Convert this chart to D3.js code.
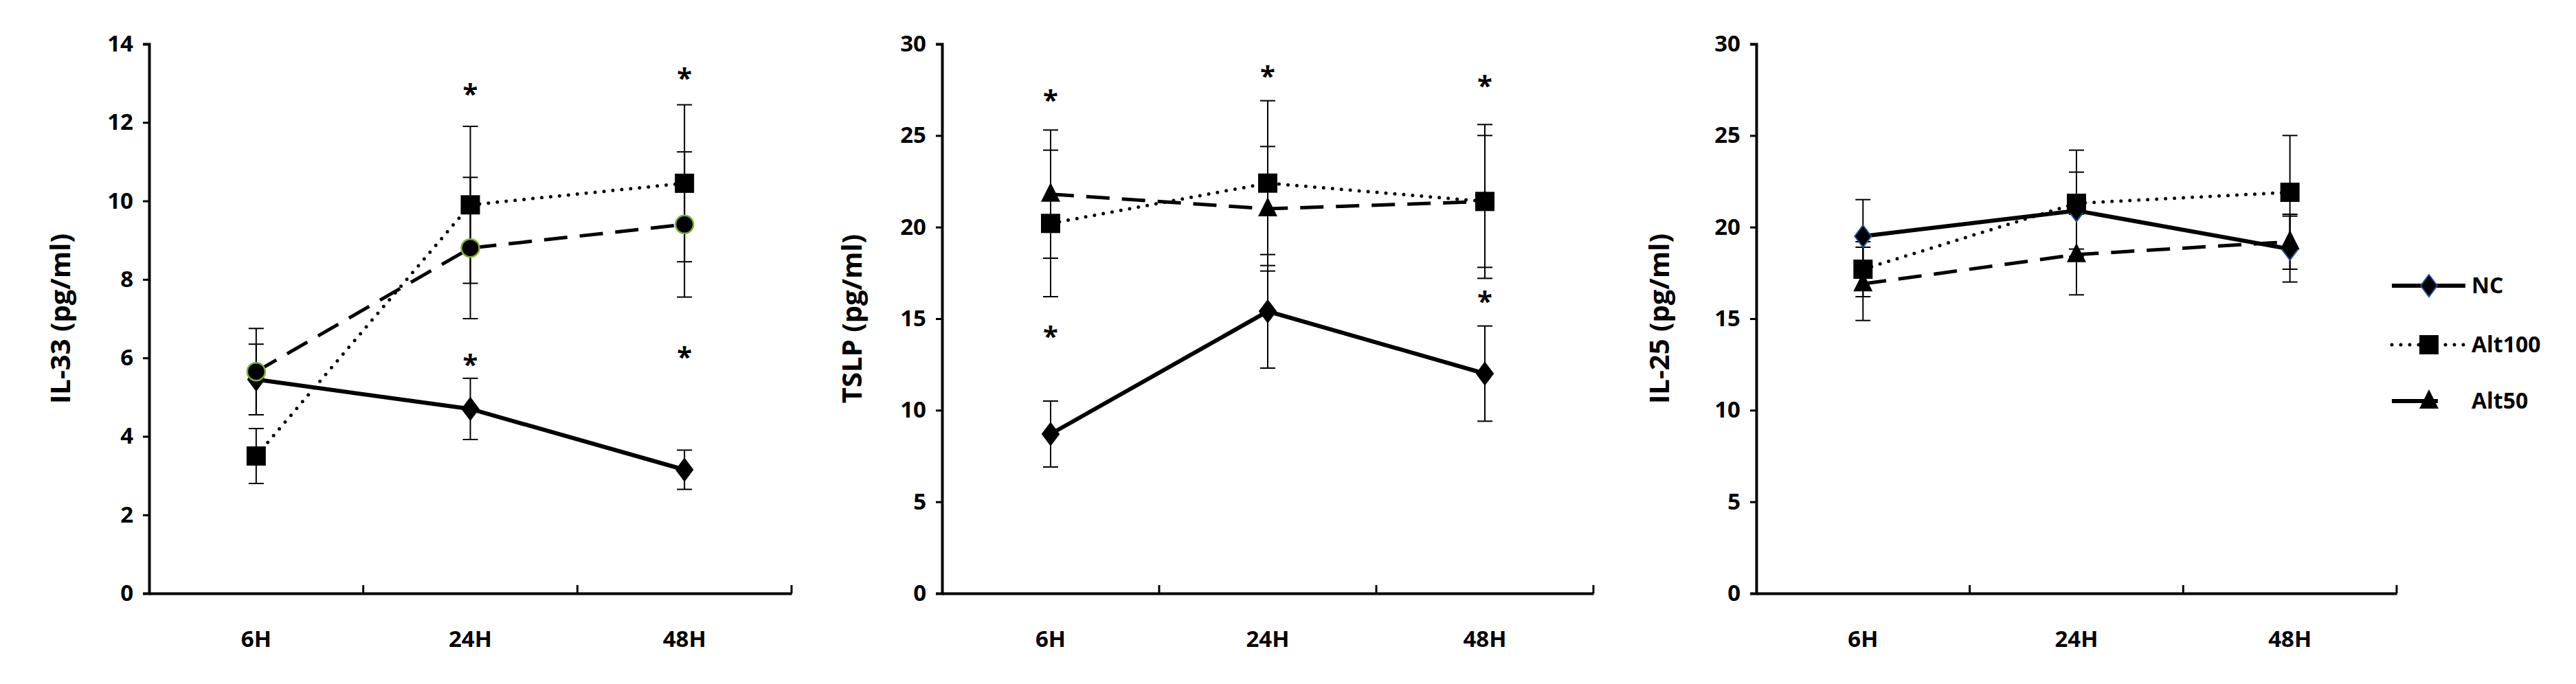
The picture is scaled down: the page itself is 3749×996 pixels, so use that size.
<!DOCTYPE html>
<html>
<head>
<meta charset="utf-8">
<script src="https://cdn.jsdelivr.net/npm/d3@7"></script>
<style>
  body { margin: 0; background: #fff; }
  text { font-family: "Open Sans", sans-serif; font-weight: bold; fill: #000; }
</style>
</head>
<body>
<script>
const times = ['6H', '24H', '48H']
const seriesNames = ['NC', 'Alt100', 'Alt50']

// IL-33
const il33Mean = { NC: [5.45, 4.7, 3.15], Alt100: [3.5, 9.9, 10.45], Alt50: [5.65, 8.8, 9.4] }
const il33Err = { NC: [0.9, 0.78, 0.5], Alt100: [0.7, 2.0, 2.0], Alt50: [1.1, 1.8, 1.85] }
const il33Stars = [[1, 12.9], [1, 6.0], [2, 13.3], [2, 6.2]]
const il33Ticks = [0, 2, 4, 6, 8, 10, 12, 14]

// TSLP
const tslpMean = { NC: [8.7, 15.4, 12.0], Alt100: [20.2, 22.4, 21.4], Alt50: [21.8, 21.0, 21.4] }
const tslpErr = { NC: [1.8, 3.1, 2.6], Alt100: [4.0, 4.5, 4.2], Alt50: [3.5, 3.4, 3.6] }
const tslpStars = [[0, 27.3], [0, 14.4], [1, 28.6], [2, 28.1], [2, 16.3]]

// IL-25
const il25Mean = { NC: [19.5, 20.9, 18.8], Alt100: [17.7, 21.3, 21.9], Alt50: [16.9, 18.5, 19.2] }
const il25Err = { NC: [2.0, 2.1, 1.8], Alt100: [1.5, 2.9, 3.1], Alt50: [2.0, 2.2, 1.5] }
const il25Stars = []
const ticks30 = [0, 5, 10, 15, 20, 25, 30]

const panels = [
  { title: 'IL-33 (pg/ml)', mean: il33Mean, err: il33Err, stars: il33Stars, max: 14, ticks: il33Ticks, x0: 217, x1: 1152, titleX: 88, alt50Shape: 'circle', ncStroke: '#000' },
  { title: 'TSLP (pg/ml)', mean: tslpMean, err: tslpErr, stars: tslpStars, max: 30, ticks: ticks30, x0: 1371, x1: 2319, titleX: 1240, alt50Shape: 'triangle', ncStroke: '#000' },
  { title: 'IL-25 (pg/ml)', mean: il25Mean, err: il25Err, stars: il25Stars, max: 30, ticks: ticks30, x0: 2556, x1: 3488, titleX: 2415, alt50Shape: 'triangle', ncStroke: '#1f4e9a' }
]

const W = 3749, H = 996, yTop = 64, yBottom = 864

const dash = { NC: null, Alt100: '0 13', Alt50: '34 18' }

const svg = d3.select('body').append('svg').attr('width', W).attr('height', H)

function marker(g, shape, x, y, stroke) {
  if (shape === 'square') {
    g.append('rect').attr('x', x - 14).attr('y', y - 14).attr('width', 28).attr('height', 28).attr('fill', '#000')
  } else if (shape === 'diamond') {
    g.append('path').attr('d', `M${x},${y - 16}L${x + 12},${y}L${x},${y + 16}L${x - 12},${y}Z`)
      .attr('fill', '#000').attr('stroke', stroke).attr('stroke-width', 2)
  } else if (shape === 'triangle') {
    g.append('path').attr('d', `M${x},${y - 17}L${x + 14},${y + 11}L${x - 14},${y + 11}Z`).attr('fill', '#000')
  } else {
    g.append('circle').attr('cx', x).attr('cy', y).attr('r', 13).attr('fill', '#000')
      .attr('stroke', '#7fae3a').attr('stroke-width', 2.5)
  }
}

panels.forEach(p => {
  const g = svg.append('g')
  const x = d3.scaleBand().domain(times).range([p.x0, p.x1])
  const y = d3.scaleLinear().domain([0, p.max]).range([yBottom, yTop])
  const cx = t => x(t) + x.bandwidth() / 2

  const yAxis = g.append('g').attr('transform', `translate(${p.x0},0)`)
    .call(d3.axisLeft(y).tickValues(p.ticks).tickSize(9).tickPadding(14))
  yAxis.select('.domain').attr('stroke-width', 4)
  yAxis.selectAll('.tick line').attr('stroke-width', 3)
  yAxis.selectAll('.tick text').style('font-size', '33px')

  const xAxis = g.append('g').attr('transform', `translate(0,${yBottom})`)
    .call(d3.axisBottom(x).tickSize(0).tickPadding(55))
  xAxis.select('.domain').attr('stroke-width', 4)
  xAxis.selectAll('.tick text').style('font-size', '33px')
  // category boundary ticks
  g.selectAll('.bt').data(times.map((t, i) => p.x0 + x.step() * (i + 1)))
    .enter().append('line').attr('x1', d => d).attr('x2', d => d)
    .attr('y1', yBottom - 12).attr('y2', yBottom).attr('stroke', '#000').attr('stroke-width', 3)

  g.append('text').attr('transform', `translate(${p.titleX},${(yTop + yBottom) / 2}) rotate(-90)`)
    .attr('text-anchor', 'middle').attr('dy', '0.35em').style('font-size', '40px').text(p.title)

  const shapes = { NC: 'diamond', Alt100: 'square', Alt50: p.alt50Shape }

  // error bars
  seriesNames.forEach(s => {
    times.forEach((t, i) => {
      const m = p.mean[s][i], e = p.err[s][i], xx = cx(t)
      g.append('line').attr('x1', xx).attr('x2', xx).attr('y1', y(m - e)).attr('y2', y(m + e))
        .attr('stroke', '#000').attr('stroke-width', 2)
      ;[m - e, m + e].forEach(v => g.append('line').attr('x1', xx - 11).attr('x2', xx + 11)
        .attr('y1', y(v)).attr('y2', y(v)).attr('stroke', '#000').attr('stroke-width', 2))
    })
  })

  // lines
  const line = d3.line().x((d, i) => cx(times[i])).y(d => y(d))
  seriesNames.forEach(s => {
    g.append('path').attr('d', line(p.mean[s])).attr('fill', 'none').attr('stroke', '#000')
      .attr('stroke-width', s === 'NC' ? 6 : 5).attr('stroke-linecap', s === 'Alt100' ? 'round' : 'butt')
      .attr('stroke-dasharray', dash[s])
  })
  seriesNames.forEach(s => {
    times.forEach((t, i) => marker(g, shapes[s], cx(t), y(p.mean[s][i]), p.ncStroke))
  })

  g.selectAll('.star').data(p.stars).enter().append('text')
    .attr('x', d => cx(times[d[0]])).attr('y', d => y(d[1]))
    .attr('text-anchor', 'middle').attr('dy', '0.6em').style('font-size', '40px').text('*')
})

// legend
const legend = svg.append('g')
const legendY = [416, 502, 584]
const legendShapes = { NC: 'diamond', Alt100: 'square', Alt50: 'triangle' }
seriesNames.forEach((s, i) => {
  const ly = legendY[i]
  legend.append('line').attr('x1', 3481).attr('x2', s === 'Alt50' ? 3548 : 3588).attr('y1', ly).attr('y2', ly)
    .attr('stroke', '#000').attr('stroke-width', s === 'Alt100' ? 5 : 6)
    .attr('stroke-linecap', s === 'Alt100' ? 'round' : 'butt').attr('stroke-dasharray', s === 'Alt100' ? '0 13' : null)
  marker(legend, legendShapes[s], 3535, ly, '#1f4e9a')
  legend.append('text').attr('x', 3597).attr('y', ly).attr('dy', '0.35em').style('font-size', '32px').text(s)
})
</script>
</body>
</html>
